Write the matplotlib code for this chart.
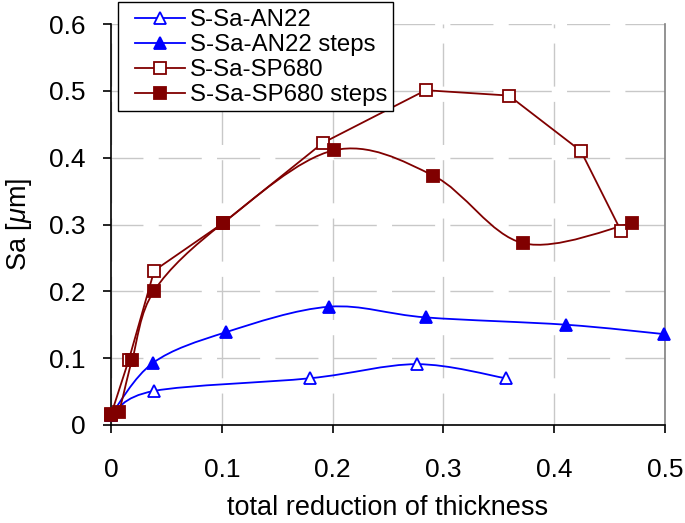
import numpy as np
import matplotlib
matplotlib.use("Agg")
import matplotlib.pyplot as plt
from matplotlib.path import Path
from matplotlib.patches import PathPatch, Rectangle
from matplotlib.lines import Line2D

plt.rcParams['font.family'] = ['Liberation Sans', 'DejaVu Sans']
plt.rcParams['mathtext.fontset'] = 'custom'
plt.rcParams['mathtext.it'] = 'Liberation Sans:italic'
plt.rcParams['mathtext.rm'] = 'Liberation Sans'

# data
an22_x = [0.0, 0.039, 0.180, 0.276, 0.356]
an22_y = [0.015, 0.051, 0.070, 0.091, 0.070]

an22s_x = [0.0, 0.038, 0.104, 0.197, 0.284, 0.411, 0.499]
an22s_y = [0.015, 0.093, 0.139, 0.177, 0.161, 0.150, 0.136]

sp680_x = [0.0, 0.016, 0.039, 0.101, 0.191, 0.284, 0.359, 0.424, 0.460]
sp680_y = [0.015, 0.097, 0.231, 0.302, 0.422, 0.501, 0.493, 0.410, 0.291]

sp680s_x = [0.0, 0.007, 0.019, 0.039, 0.101, 0.201, 0.291, 0.372, 0.470]
sp680s_y = [0.017, 0.020, 0.097, 0.201, 0.302, 0.411, 0.373, 0.272, 0.302]

labels = ['S-Sa-AN22', 'S-Sa-AN22 steps', 'S-Sa-SP680', 'S-Sa-SP680 steps']
blue = '#0000FF'
red = '#800000'


def smooth_path(xs, ys):
    # Excel-like smoothed line: Catmull-Rom turned into cubic Bezier pieces
    p = np.column_stack([xs, ys])
    n = len(p)
    verts = [p[0]]
    codes = [Path.MOVETO]
    for i in range(n - 1):
        p0 = p[i - 1] if i > 0 else p[i]
        p3 = p[i + 2] if i + 2 < n else p[i + 1]
        c1 = p[i] + (p[i + 1] - p0) / 6.0
        c2 = p[i + 1] - (p3 - p[i]) / 6.0
        verts += [c1, c2, p[i + 1]]
        codes += [Path.CURVE4] * 3
    return Path(verts, codes)


fig = plt.figure(figsize=(6.85, 5.23), dpi=100)
ax = fig.add_axes([0.162, 0.1874, 0.809, 0.7666])

# (x, y, colour, marker, face, smoothed)
series = [
    (an22_x, an22_y, blue, '^', 'white', True),
    (an22s_x, an22s_y, blue, '^', blue, True),
    (sp680_x, sp680_y, red, 's', 'white', False),
    (sp680s_x, sp680s_y, red, 's', red, True),
]

handles = []
for (xs, ys, col, mk, fc, smooth), lab in zip(series, labels):
    if smooth:
        ax.add_patch(PathPatch(smooth_path(xs, ys), facecolor='none',
                               edgecolor=col, lw=1.3, zorder=3))
    else:
        ax.plot(xs, ys, color=col, lw=1.3, zorder=3)
    ax.plot(xs, ys, linestyle='none', marker=mk, markersize=8,
            markerfacecolor=fc, markeredgecolor=col, markeredgewidth=1.3,
            zorder=4, clip_on=False)
    handles.append(Line2D([], [], color=col, lw=1.3, marker=mk, markersize=8,
                          markerfacecolor=fc, markeredgecolor=col,
                          markeredgewidth=1.3))

ax.set_xlim(0, 0.5)
ax.set_ylim(0, 0.6)
ax.set_xticks([0, 0.1, 0.2, 0.3, 0.4, 0.5])
ax.set_xticklabels(['0', '0.1', '0.2', '0.3', '0.4', '0.5'])
ax.set_yticks([0, 0.1, 0.2, 0.3, 0.4, 0.5, 0.6])
ax.set_yticklabels(['0', '0.1', '0.2', '0.3', '0.4', '0.5', '0.6'])
ax.tick_params(direction='out', length=6, width=1.2, labelsize=19)
ax.tick_params(axis='x', pad=17.5)
ax.tick_params(axis='y', pad=12)

ax.grid(True, color='#c8c8c8', lw=1.0, linestyle=(8, (31, 11)))
ax.set_axisbelow(True)

ax.spines['top'].set_visible(False)
ax.spines['right'].set_color('#808080')
ax.spines['right'].set_linewidth(1.2)
ax.spines['left'].set_linewidth(1.2)
ax.spines['bottom'].set_linewidth(1.2)

ax.set_xlabel('total reduction of thickness', fontsize=19.5, labelpad=9.5)
ax.set_ylabel(r'Sa [$\mu$m]', fontsize=19.5, labelpad=11)

# legend box drawn by hand so its padding matches
fig.patches.append(Rectangle((118 / 685, 1 - 111 / 523), 275 / 685, 109 / 523,
                             transform=fig.transFigure, facecolor='white',
                             edgecolor='black', lw=1.0, zorder=1))
leg = fig.legend(handles, labels, loc='upper left',
                 bbox_to_anchor=(135 / 685, 1 - 9 / 523),
                 fontsize=17.3, frameon=False, handlelength=2.1,
                 handletextpad=0.2, labelspacing=0.13, borderpad=0,
                 borderaxespad=0)

fig.savefig('out.png', dpi=100)
